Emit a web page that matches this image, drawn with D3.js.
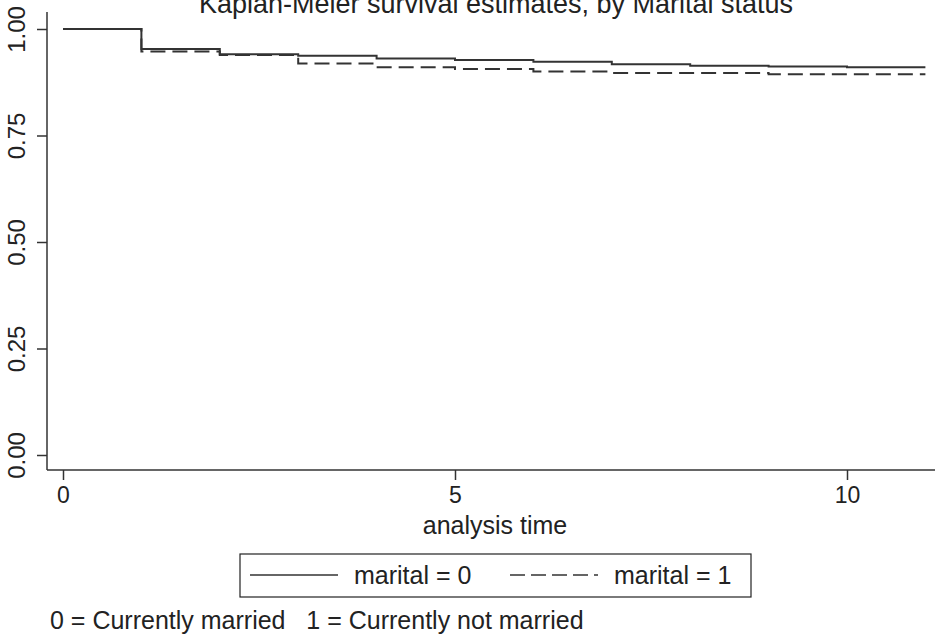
<!DOCTYPE html>
<html>
<head>
<meta charset="utf-8">
<script src="https://cdn.jsdelivr.net/npm/d3@7"></script>
<style>
  body { margin: 0; background: #fff; }
  text { font-family: "Liberation Sans", Arial, sans-serif; fill: #222; }
</style>
</head>
<body>
<div id="chart"></div>
<script>
// KM step estimates
const times = [0, 1, 2, 3, 4, 5, 6, 7, 8, 9, 10, 11];
const survMarital0 = [1.000, 0.953, 0.941, 0.937, 0.931, 0.927, 0.923, 0.917, 0.914, 0.912, 0.910, 0.910];
const survMarital1 = [1.000, 0.947, 0.939, 0.919, 0.910, 0.906, 0.900, 0.897, 0.897, 0.894, 0.894, 0.894];
const xTicks = [0, 5, 10];
const yTicks = [0, 0.25, 0.5, 0.75, 1];
const legendLabels = ["marital = 0", "marital = 1"];
const titleText = "Kaplan-Meier survival estimates, by Marital status";
const noteText = "0 = Currently married   1 = Currently not married";

const W = 935, H = 641;
const plot = {left: 47, right: 935, top: 12, bottom: 470};

const svg = d3.select("#chart").append("svg")
  .attr("width", W).attr("height", H);

const x = d3.scaleLinear().domain([0, 10]).range([63, 847]);
const y = d3.scaleLinear().domain([0, 1]).range([455, 29]);

// title, cut off at the top like the picture
svg.append("text")
  .attr("x", 496).attr("y", 13)
  .attr("text-anchor", "middle")
  .style("font-size", "27px")
  .text(titleText);

// axes
const yAxis = svg.append("g")
  .attr("transform", `translate(${plot.left},0)`)
  .call(d3.axisLeft(y).tickValues(yTicks).tickFormat(d3.format(".2f")).tickSize(10));
yAxis.select(".domain").remove();
yAxis.selectAll("text")
  .attr("transform", "rotate(-90)")
  .attr("x", 0).attr("dx", 0)
  .attr("y", -22).attr("dy", 0)
  .attr("text-anchor", "middle")
  .style("font-size", "24px");

const xAxis = svg.append("g")
  .attr("transform", `translate(0,${plot.bottom})`)
  .call(d3.axisBottom(x).tickValues(xTicks).tickFormat(d3.format("d")).tickSize(10).tickPadding(7));
xAxis.select(".domain").remove();
xAxis.selectAll("text").style("font-size", "23px");

svg.selectAll(".tick line").attr("stroke", "#333").attr("stroke-width", 1.5);

// axis lines
svg.append("line")
  .attr("x1", plot.left).attr("x2", plot.left)
  .attr("y1", plot.top).attr("y2", plot.bottom)
  .attr("stroke", "#333").attr("stroke-width", 1.5);
svg.append("line")
  .attr("x1", plot.left).attr("x2", plot.right)
  .attr("y1", plot.bottom).attr("y2", plot.bottom)
  .attr("stroke", "#333").attr("stroke-width", 1.5);

svg.append("text")
  .attr("x", (plot.left + 943) / 2).attr("y", 534)
  .attr("text-anchor", "middle")
  .style("font-size", "25px")
  .text("analysis time");

// survival curves
const line = d3.line()
  .x(d => x(d[0]))
  .y(d => y(d[1]))
  .curve(d3.curveStepAfter);

const series = [
  {vals: survMarital0, dash: null},
  {vals: survMarital1, dash: "15,7"}
];

series.slice().reverse().forEach(s => {
  svg.append("path")
    .datum(times.map((t, i) => [t, s.vals[i]]))
    .attr("d", line)
    .attr("fill", "none")
    .attr("stroke", "#333")
    .attr("stroke-width", 2)
    .attr("stroke-dasharray", s.dash);
});

// legend
const lg = svg.append("g");
lg.append("rect")
  .attr("x", 240).attr("y", 554)
  .attr("width", 511).attr("height", 43)
  .attr("fill", "#fff").attr("stroke", "#222").attr("stroke-width", 1.2);

const legendItems = [
  {x: 250, dash: null, label: legendLabels[0]},
  {x: 510, dash: "15,6", label: legendLabels[1]}
];
legendItems.forEach(it => {
  lg.append("line")
    .attr("x1", it.x).attr("x2", it.x + 88)
    .attr("y1", 575).attr("y2", 575)
    .attr("stroke", "#333").attr("stroke-width", 1.5)
    .attr("stroke-dasharray", it.dash);
  lg.append("text")
    .attr("x", it.x + 104).attr("y", 584)
    .style("font-size", "25px")
    .text(it.label);
});

// note
svg.append("text")
  .attr("x", 50).attr("y", 629)
  .style("font-size", "25px")
  .attr("xml:space", "preserve")
  .style("white-space", "pre")
  .text(noteText);
</script>
</body>
</html>
